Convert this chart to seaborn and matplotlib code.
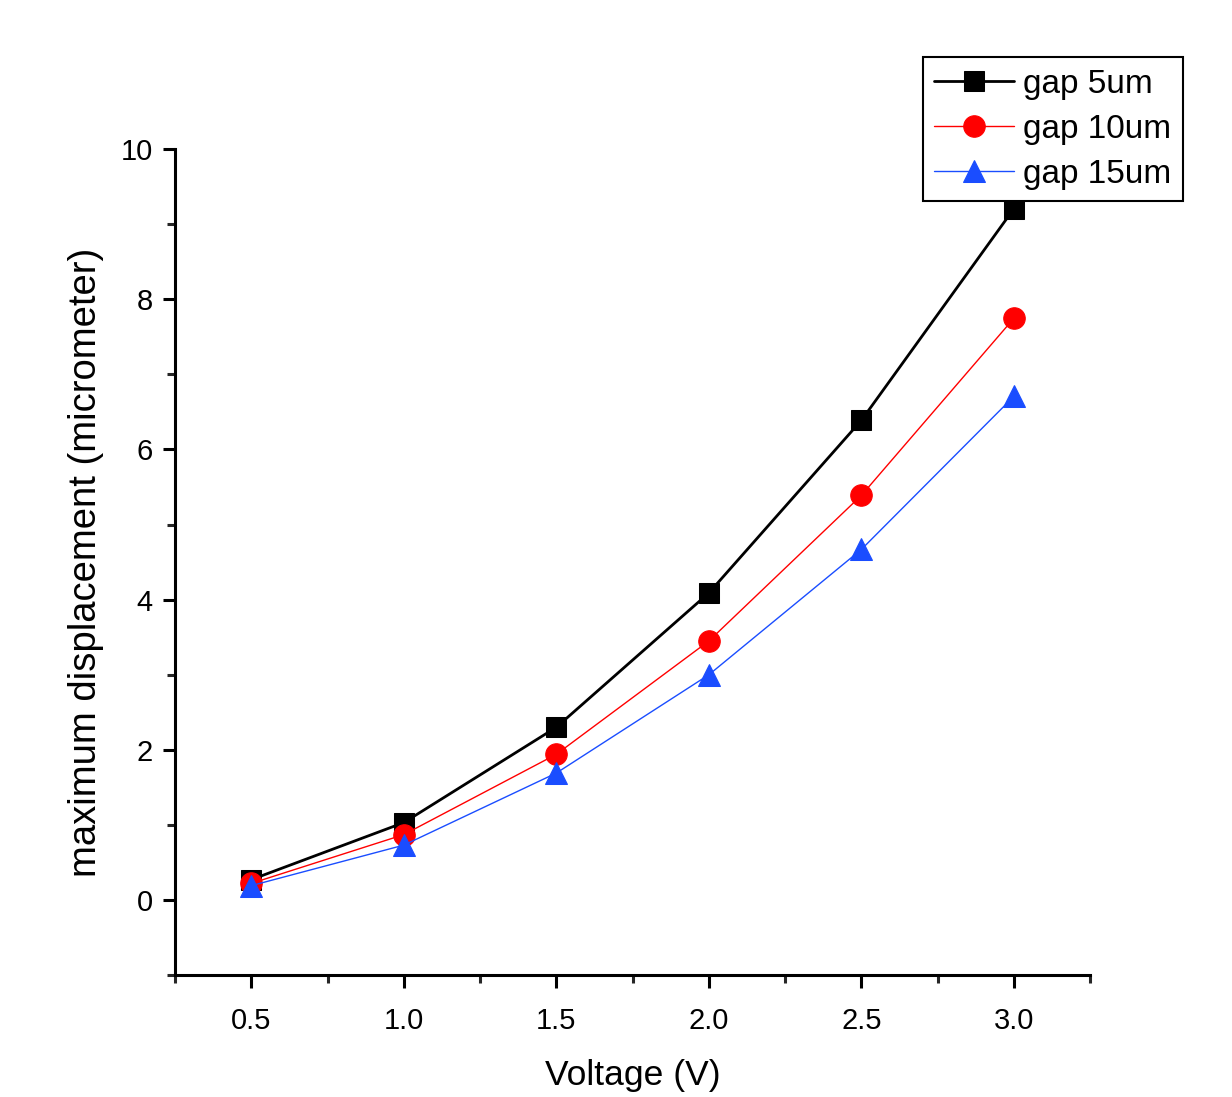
import numpy as np
import pandas as pd
import matplotlib
matplotlib.use("Agg")
import matplotlib.pyplot as plt
import seaborn as sns
from matplotlib.ticker import MultipleLocator

voltage = [0.5, 1.0, 1.5, 2.0, 2.5, 3.0]
gap5 = [0.27, 1.03, 2.30, 4.09, 6.39, 9.21]
gap10 = [0.22, 0.87, 1.94, 3.45, 5.39, 7.75]
gap15 = [0.19, 0.73, 1.69, 3.00, 4.67, 6.71]
series_names = ["gap 5um", "gap 10um", "gap 15um"]

df = pd.DataFrame({
    "Voltage": voltage * 3,
    "disp": gap5 + gap10 + gap15,
    "series": [series_names[0]] * 6 + [series_names[1]] * 6 + [series_names[2]] * 6,
})

sns.set_style("ticks")
plt.rcParams['font.family'] = ['Liberation Sans', 'DejaVu Sans']
plt.rcParams['text.color'] = 'black'
plt.rcParams['axes.labelcolor'] = 'black'

fig = plt.figure(figsize=(12.32, 10.97), dpi=100)
ax = fig.add_axes([0.142, 0.1112, 0.743, 0.7528])

colors = {"gap 5um": "black", "gap 10um": "#ff0000", "gap 15um": "#1a4dff"}
markers = {"gap 5um": "s", "gap 10um": "o", "gap 15um": "^"}
widths = {"gap 5um": 2.0, "gap 10um": 1.0, "gap 15um": 1.0}
msizes = {"gap 5um": 14.5, "gap 10um": 15.5, "gap 15um": 16}

for name in series_names:
    sub = df[df["series"] == name]
    sns.lineplot(data=sub, x="Voltage", y="disp", ax=ax, color=colors[name],
                 marker=markers[name], markersize=msizes[name], linewidth=widths[name],
                 markeredgecolor=colors[name], label=name, legend=False)

ax.set_xlim(0.25, 3.25)
ax.set_ylim(-1, 10)
ax.xaxis.set_minor_locator(MultipleLocator(0.25))
ax.yaxis.set_minor_locator(MultipleLocator(1))
ax.set_xticks([0.5, 1.0, 1.5, 2.0, 2.5, 3.0])
ax.set_xticklabels(["0.5", "1.0", "1.5", "2.0", "2.5", "3.0"])
ax.set_yticks([0, 2, 4, 6, 8, 10])
ax.set_yticklabels(["0", "2", "4", "6", "8", "10"])

for side in ["top", "right"]:
    ax.spines[side].set_visible(False)
for side in ["left", "bottom"]:
    ax.spines[side].set_linewidth(2.2)
    ax.spines[side].set_color("black")

ax.tick_params(axis="both", which="major", direction="out", length=9, width=2.2,
               labelsize=21, colors="black", labelcolor="black")
ax.tick_params(axis="x", which="major", pad=14)
ax.tick_params(axis="y", which="major", pad=7)
ax.tick_params(axis="both", which="minor", direction="out", length=6, width=2.2)

ax.set_xlabel("Voltage (V)", fontsize=25.5, labelpad=17, color="black")
ax.set_ylabel("maximum displacement (micrometer)", fontsize=27.5, labelpad=12, color="black")

handles, labels = ax.get_legend_handles_labels()
leg = fig.legend(handles, labels, loc="upper left", bbox_to_anchor=(0.749, 0.948),
                 fontsize=24, frameon=True, fancybox=False, edgecolor="black",
                 handlelength=2.4, handletextpad=0.25, labelspacing=0.42,
                 borderpad=0.35, borderaxespad=0)
leg.get_frame().set_linewidth(1.5)
leg.get_frame().set_alpha(1)

fig.savefig("out.png", dpi=100, facecolor="white")
